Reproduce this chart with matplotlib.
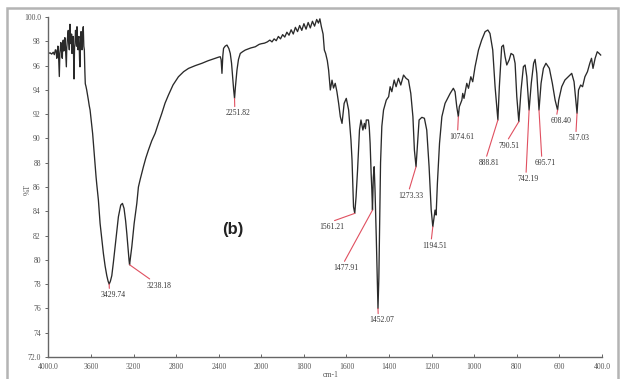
import numpy as np
import matplotlib
matplotlib.use("Agg")
import matplotlib.pyplot as plt
from matplotlib.patches import Rectangle

# ---- spectrum: wavenumber (cm-1) and transmittance (%T) ----
wavenumber = [
    4000, 3985, 3970, 3955, 3945, 3935, 3929, 3922, 3917, 3912, 3908, 3898, 3893, 3889,
    3884, 3880, 3875, 3870, 3865, 3861, 3856, 3851, 3846, 3842, 3837, 3832, 3828, 3823,
    3818, 3814, 3809, 3804, 3798, 3793, 3788, 3783, 3779, 3774, 3769, 3765, 3760, 3755,
    3751, 3746, 3741, 3736, 3732, 3727, 3722, 3718, 3713, 3708, 3704, 3699, 3694, 3690,
    3685, 3680, 3673, 3668, 3663, 3658, 3654, 3648, 3641, 3633, 3625, 3617, 3609, 3600,
    3593, 3585, 3578, 3570, 3562, 3553, 3546, 3531, 3515, 3500, 3484, 3468, 3452, 3440,
    3429.74, 3418, 3405, 3390, 3374, 3358, 3343, 3321, 3305, 3290, 3275, 3264, 3252, 3243,
    3238.18, 3230, 3217, 3195, 3170, 3155, 3139, 3108, 3085, 3061, 3030, 2998, 2965, 2935,
    2905, 2873, 2830, 2779, 2730, 2684, 2620, 2558, 2500, 2433, 2400, 2386, 2378, 2370,
    2362, 2355, 2340, 2323, 2305, 2292, 2280, 2270, 2260, 2251.82, 2244, 2229, 2215, 2198,
    2175, 2151, 2100, 2057, 2020, 2000,
    1985, 1972, 1960, 1950, 1940, 1930, 1920, 1910, 1900, 1890, 1880, 1870, 1860, 1850,
    1840, 1830, 1820, 1810, 1800, 1790, 1780, 1770, 1760, 1750, 1740, 1732, 1725, 1718,
    1710, 1704, 1698, 1690, 1684, 1676, 1668, 1661, 1653, 1645, 1637, 1629, 1621, 1611,
    1601, 1590, 1579, 1574, 1567, 1561.21, 1555, 1548, 1539, 1532, 1523, 1516, 1511, 1507,
    1497, 1493, 1489, 1484, 1481, 1477.91, 1474, 1470, 1466, 1460, 1455, 1452.07, 1448,
    1444, 1440, 1434, 1426, 1413, 1402, 1395, 1387, 1376, 1367, 1356, 1345, 1332, 1320,
    1309, 1298, 1288, 1281, 1273.33, 1266, 1259, 1246, 1234, 1223, 1212, 1202, 1194.51,
    1188, 1184, 1179, 1173, 1163, 1152, 1137, 1113, 1098, 1090, 1082, 1074.61, 1070, 1058,
    1054, 1048, 1035, 1027, 1016, 1007, 996, 980, 965, 949, 936, 926, 913, 902, 888.81,
    882, 871, 863, 855, 847, 836, 827, 816, 808, 800, 790.51, 780, 769, 761, 753, 742.19,
    732, 721, 714, 706, 695.71, 686, 675, 663, 647, 633, 620, 608.40, 603, 589, 574, 558,
    542, 531, 517.03, 510, 500, 491, 480, 468, 457, 449, 442, 432, 422, 413, 406,
]
transmittance = [
    97.0, 97.05, 96.95, 97.1, 96.9, 97.3, 97.28, 96.6, 96.87, 97.6, 97.55, 95.1, 97.0, 97.3,
    97.9, 97.7, 96.8, 96.6, 97.9, 98.1, 97.2, 97.3, 98.3, 97.8, 96.8, 95.9, 97.5, 98.1,
    98.6, 98.9, 97.9, 97.3, 99.4, 98.3, 97.8, 98.6, 97.0, 97.8, 98.4, 97.2, 94.9, 97.5,
    97.8, 98.9, 98.6, 97.6, 99.2, 98.0, 97.3, 98.3, 98.4, 96.5, 95.9, 97.9, 98.8, 98.2,
    97.3, 98.5, 99.2, 97.6, 97.3, 95.5, 94.5, 94.3, 94.0, 93.6, 93.16, 92.7, 92.34, 91.6,
    90.97, 90.4, 89.6, 88.6, 87.67, 86.85, 86.2, 84.93, 83.0, 81.8, 80.53, 79.5, 78.7, 78.25,
    78.0, 78.25, 78.7, 79.8, 81.08, 82.4, 83.55, 84.51, 84.65, 84.24, 83.2, 82.18, 80.9, 79.98,
    79.6, 80.2, 81.08, 83.0, 84.65, 86.0, 86.6, 87.67, 88.4, 89.04, 89.8, 90.42, 91.3, 92.07,
    92.9, 93.57, 94.4, 95.08, 95.5, 95.77, 96.0, 96.19, 96.4, 96.6, 96.7, 96.73, 96.5, 95.36,
    96.8, 97.42, 97.6, 97.69, 97.4, 97.0, 96.2, 95.08, 94.0, 93.3, 94.2, 95.63, 96.5, 97.0,
    97.15, 97.28, 97.45, 97.55, 97.75, 97.8,
    97.85, 97.95, 98.1, 97.95, 98.2, 98.05, 98.4, 98.2, 98.55, 98.35, 98.75, 98.5, 98.95, 98.6,
    99.15, 98.8, 99.3, 98.9, 99.45, 99.0, 99.55, 99.1, 99.65, 99.25, 99.8, 99.5, 99.85, 99.2,
    98.6, 97.28, 97.0, 96.4, 95.63, 93.99, 94.8, 94.15, 94.54, 93.85, 92.9, 91.79, 91.24, 92.89,
    93.3, 92.34, 89.87, 88.22, 84.37, 83.83, 85.2, 87.4, 90.69, 91.52, 90.69, 91.24, 90.8, 91.52,
    91.52, 90.9, 89.6, 87.0, 85.8, 84.1, 86.8, 87.67, 85.75, 81.8, 78.0, 76.0, 78.5,
    83.0, 88.0, 91.0, 92.34, 93.16, 93.44, 94.26, 93.85, 94.81, 94.26, 94.95, 94.4, 95.22, 94.95,
    94.81, 93.71, 91.79, 89.04, 87.67, 89.6, 91.52, 91.74, 91.66, 90.69, 87.67, 84.1, 82.73,
    83.55, 84.1, 83.69, 86.3, 89.6, 91.79, 92.89, 93.71, 94.13, 93.85, 92.61, 91.79, 92.61, 93.16,
    93.71, 93.3, 94.54, 94.13, 95.08, 94.67, 95.91, 97.28, 98.1, 98.79, 98.93, 98.65, 97.28, 94.26, 91.52,
    94.26, 97.55, 97.69, 96.73, 96.05, 96.46, 97.0, 96.87, 96.19, 93.44, 91.38, 93.99, 95.91, 96.05, 95.08, 92.34,
    94.54, 96.19, 96.51, 95.36, 92.34, 94.54, 95.77, 96.19, 95.77, 94.54, 93.16, 92.34, 93.16, 94.26, 94.81, 95.08,
    95.36, 94.67, 92.07, 93.99, 94.4, 94.26, 95.08, 95.5, 96.19, 96.6, 95.77, 96.6, 97.14, 97.0, 96.87,
]

# ---- labelled peaks ----
peak_labels = ["3429.74", "3238.18", "2251.82", "1561.21", "1477.91", "1452.07", "1273.33",
               "1194.51", "1074.61", "888.81", "790.51", "742.19", "695.71", "608.40", "517.03"]
# text offsets from each peak (pixels, x right / y down) and line attachment point on the text
label_dx = [4, 29, 4, -23, -27, 4, -5, 2, 3, -9, -10, -1, 6, 3, 2]
label_dy = [11, 21, 15, 14, 58, 12, 29, 19, 20, 43, 24, 69, 53, 11, 25]
label_rel = [0.35, 0.3, 0.35, 0.3, 0.4, 0.35, 0.4, 0.35, 0.35, 0.35, 0.4, 0.4, 0.35, 0.3, 0.35]

x_ticks = [4000, 3600, 3200, 2800, 2400, 2000, 1800, 1600, 1400, 1200, 1000, 800, 600, 400]
x_tick_labels = ["4000.0", "3600", "3200", "2800", "2400", "2000", "1800", "1600", "1400",
                 "1200", "1000", "800", "600", "400.0"]
y_ticks = [72, 74, 76, 78, 80, 82, 84, 86, 88, 90, 92, 94, 96, 98, 100]
y_tick_labels = ["72.0", "74", "76", "78", "80", "82", "84", "86", "88", "90", "92", "94",
                 "96", "98", "100.0"]

wn = np.array(wavenumber, dtype=float)
tr = np.array(transmittance, dtype=float)


# wavenumber axis with doubled scale below 2000 cm-1
def _fwd(x):
    x = np.asarray(x, dtype=float)
    return np.where(x >= 2000, x, 2 * x - 2000)


def _inv(u):
    u = np.asarray(u, dtype=float)
    return np.where(u >= 2000, u, (u + 2000) / 2)


fig = plt.figure(figsize=(6.23, 3.79), dpi=100)
fig.patch.set_facecolor("white")
fig.add_artist(Rectangle((7 / 623, -0.02), 611 / 623, 0.999, transform=fig.transFigure,
                         fill=False, edgecolor="#b4b4b4", linewidth=1.8))

ax = fig.add_axes([0.0778, 0.058, 0.8884, 0.8971])
ax.set_xscale("function", functions=(_fwd, _inv))
ax.plot(wn, tr, color="#2a2a2a", linewidth=0.95)
ax.set_xlim(4000, 400)
ax.set_ylim(72, 100)

ax.set_xticks(x_ticks)
ax.set_xticklabels(x_tick_labels)
ax.set_yticks(y_ticks)
ax.set_yticklabels(y_tick_labels)
ax.minorticks_off()

for side in ("top", "right"):
    ax.spines[side].set_visible(False)
for side in ("left", "bottom"):
    ax.spines[side].set_color("#666666")
    ax.spines[side].set_linewidth(1.0)

for lab in ax.get_xticklabels() + ax.get_yticklabels():
    lab.set_fontfamily("Liberation Serif")
    lab.set_fontsize(5.5)
    lab.set_color("#555555")
ax.tick_params(axis="x", direction="in", length=2.5, width=0.7, color="#666666", pad=4)
ax.tick_params(axis="y", direction="out", length=2.5, width=0.7, color="#666666", pad=3)

# peak annotations with red leader lines
for lab, dx, dy, rel in zip(peak_labels, label_dx, label_dy, label_rel):
    x0 = float(lab)
    y0 = float(np.interp(x0, wn[::-1], tr[::-1]))
    ax.annotate(lab, xy=(x0, y0), xytext=(dx, -dy), textcoords="offset pixels",
                ha="center", va="center", fontsize=5.5, family="Liberation Serif",
                color="#333333",
                arrowprops=dict(arrowstyle="-", color="#e05060", lw=0.8,
                                shrinkA=0, shrinkB=0, relpos=(rel, 1.0)))

ax.text(0.333, 0.376, "(b)", transform=ax.transAxes, ha="center", va="center",
        fontsize=12, fontweight="bold", family="Liberation Sans", color="#222222")

fig.text(0.045, 0.5, "%T", rotation=90, ha="center", va="center",
         fontsize=5.5, family="Liberation Serif", color="#555555")
fig.text(0.53, 0.0, "cm-1", ha="center", va="bottom",
         fontsize=5.5, family="Liberation Serif", color="#555555")

fig.savefig("out.png", dpi=100, facecolor="white")
